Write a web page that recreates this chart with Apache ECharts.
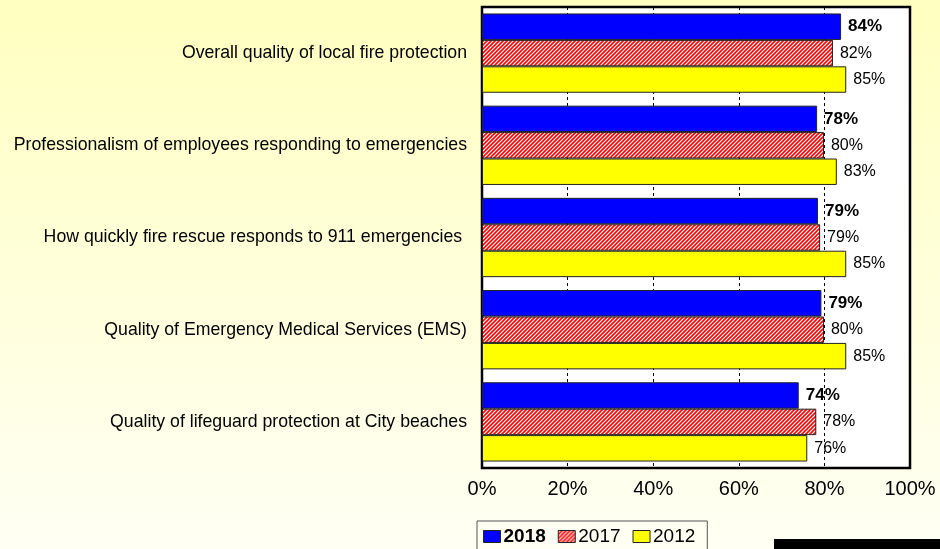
<!DOCTYPE html>
<html>
<head>
<meta charset="utf-8">
<script src="https://cdn.jsdelivr.net/npm/echarts@6/dist/echarts.min.js"></script>
<style>
html,body{margin:0;padding:0;}
#main{width:940px;height:549px;}
</style>
</head>
<body>
<div id="main"></div>
<script>
const categories = [
  'Overall quality of local fire protection',
  'Professionalism of employees responding to emergencies',
  'How quickly fire rescue responds to 911 emergencies ',
  'Quality of Emergency Medical Services (EMS)',
  'Quality of lifeguard protection at City beaches'
];
const seriesNames = ['2018', '2017', '2012'];
const values2018 = [83.9, 78.3, 78.5, 79.3, 74.0];
const values2017 = [82.0, 79.9, 79.0, 79.9, 78.1];
const values2012 = [85.1, 82.9, 85.1, 85.1, 76.0];
const xTicks = [0, 20, 40, 60, 80, 100];

const FONT = 'Arial, "Liberation Sans", sans-serif';

// hatch pattern for 2017
function makeHatch() {
  const c = document.createElement('canvas');
  const s = 4;
  c.width = s; c.height = s;
  const g = c.getContext('2d');
  g.fillStyle = '#ffffff';
  g.fillRect(0, 0, s, s);
  g.strokeStyle = '#ff0000';
  g.lineWidth = 1.6;
  g.beginPath();
  g.moveTo(-1, s + 1); g.lineTo(s + 1, -1);
  g.moveTo(-1, 1); g.lineTo(1, -1);
  g.moveTo(s - 1, s + 1); g.lineTo(s + 1, s - 1);
  g.stroke();
  return c;
}
const hatch = makeHatch();

const chart = echarts.init(document.getElementById('main'), null, {renderer: 'canvas'});

function labelCfg(bold) {
  return {
    show: true,
    position: 'right',
    distance: 7,
    color: '#000',
    fontFamily: FONT,
    fontSize: bold ? 17 : 16,
    fontWeight: bold ? 'bold' : 'normal',
    formatter: p => Math.round(p.value) + '%'
  };
}

const option = {
  animation: false,
  backgroundColor: {
    type: 'linear', x: 0, y: 0, x2: 0, y2: 1,
    colorStops: [
      {offset: 0, color: '#FFFFC0'},
      {offset: 1, color: '#FFFFF4'}
    ]
  },
  textStyle: {fontFamily: FONT},
  grid: {
    left: 482, right: 30, top: 7, bottom: 81,
    show: true,
    backgroundColor: '#ffffff',
    borderColor: '#000000',
    borderWidth: 2.5
  },
  legend: {
    data: [
      {name: seriesNames[0], textStyle: {fontWeight: 'bold'}},
      {name: seriesNames[1]},
      {name: seriesNames[2]}
    ],
    icon: 'rect',
    left: 477,
    top: 521,
    padding: [6, 12, 12, 6],
    itemWidth: 17,
    itemHeight: 12,
    itemGap: 12,
    borderColor: '#555',
    borderWidth: 1,
    backgroundColor: 'transparent',
    textStyle: {color: '#000', fontSize: 19, fontFamily: FONT, padding: [0, 0, 0, -2]},
    itemStyle: {borderColor: '#222', borderWidth: 1}
  },
  xAxis: {
    type: 'value',
    min: xTicks[0],
    max: xTicks[xTicks.length - 1],
    interval: 20,
    axisLine: {show: false},
    axisTick: {show: false},
    axisLabel: {
      color: '#000', fontSize: 20, fontFamily: FONT, margin: 11,
      formatter: '{value}%'
    },
    splitLine: {show: true, lineStyle: {color: '#000', type: [3, 3], width: 1}}
  },
  yAxis: {
    type: 'category',
    data: categories,
    inverse: true,
    axisLine: {show: false},
    axisTick: {show: false},
    axisLabel: {color: '#000', fontSize: 17.7, fontFamily: FONT, margin: 15}
  },
  series: [
    {
      name: seriesNames[0], type: 'bar', data: values2018,
      barCategoryGap: '14%', barGap: '0%',
      itemStyle: {color: '#0000FF', borderColor: '#222', borderWidth: 1},
      label: labelCfg(true)
    },
    {
      name: seriesNames[1], type: 'bar', data: values2017,
      barCategoryGap: '14%', barGap: '0%',
      itemStyle: {color: {image: hatch, repeat: 'repeat'}, borderColor: '#222', borderWidth: 1},
      label: labelCfg(false)
    },
    {
      name: seriesNames[2], type: 'bar', data: values2012,
      barCategoryGap: '14%', barGap: '0%',
      itemStyle: {color: '#FFFF00', borderColor: '#222', borderWidth: 1},
      label: labelCfg(false)
    }
  ],
  graphic: [
    {type: 'rect', left: 774, top: 539, shape: {width: 170, height: 12}, style: {fill: '#000'}, silent: true}
  ]
};
chart.setOption(option);
</script>
</body>
</html>
